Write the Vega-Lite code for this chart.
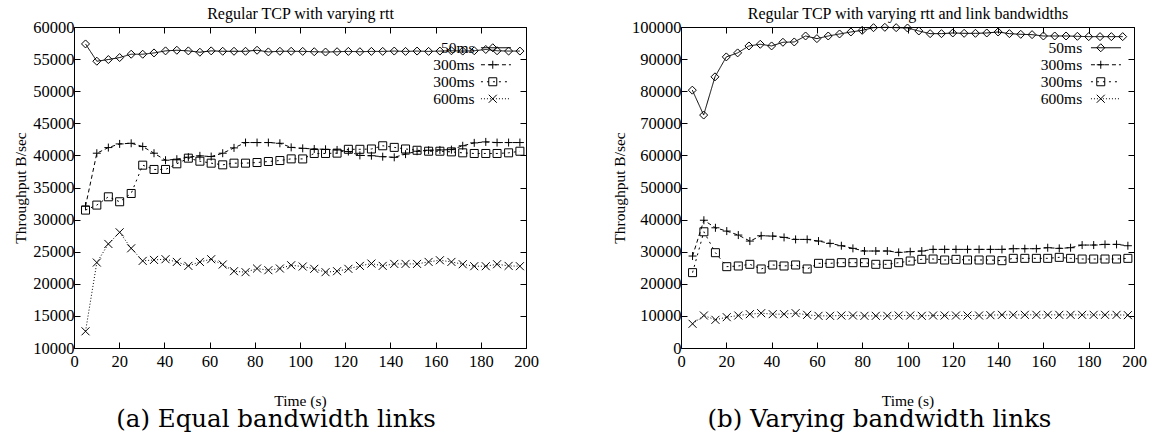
{
  "$schema": "https://vega.github.io/schema/vega-lite/v6.json",
  "padding": {"left": 13, "top": 5, "right": 0, "bottom": 0},
  "background": "white",
  "config": {
    "font": "Liberation Serif",
    "view": {"stroke": "black", "strokeWidth": 1},
    "axis": {"labelFont": "Liberation Serif", "labelFontSize": 16.5, "labelColor": "black", "titleFont": "Liberation Serif", "titleFontSize": 15.5, "titleFontWeight": "normal", "titleColor": "black", "grid": false, "domain": false, "ticks": true, "tickColor": "black", "tickSize": -6, "tickWidth": 1, "labelFlush": false},
    "title": {"font": "DejaVu Serif", "fontSize": 24.5, "fontWeight": "normal", "color": "black"},
    "concat": {"spacing": 73}
  },
  "resolve": {
    "scale": {"strokeDash": "independent", "shape": "independent"},
    "legend": {"strokeDash": "independent", "shape": "independent"}
  },
  "datasets": {
    "equal": [
      {"time":5.1,"tput":57360,"series":"50ms"},{"time":10.1,"tput":54670,"series":"50ms"},{"time":15.2,"tput":54930,"series":"50ms"},{"time":20.2,"tput":55240,"series":"50ms"},{"time":25.3,"tput":55760,"series":"50ms"},{"time":30.4,"tput":55760,"series":"50ms"},{"time":35.4,"tput":55960,"series":"50ms"},{"time":40.5,"tput":56280,"series":"50ms"},{"time":45.5,"tput":56380,"series":"50ms"},{"time":50.6,"tput":56280,"series":"50ms"},{"time":55.7,"tput":56070,"series":"50ms"},{"time":60.7,"tput":56280,"series":"50ms"},{"time":65.8,"tput":56220,"series":"50ms"},{"time":70.8,"tput":56220,"series":"50ms"},{"time":75.9,"tput":56220,"series":"50ms"},{"time":81.0,"tput":56380,"series":"50ms"},{"time":86.0,"tput":56120,"series":"50ms"},{"time":91.1,"tput":56220,"series":"50ms"},{"time":96.1,"tput":56220,"series":"50ms"},{"time":101.2,"tput":56200,"series":"50ms"},{"time":106.3,"tput":56150,"series":"50ms"},{"time":111.3,"tput":56100,"series":"50ms"},{"time":116.4,"tput":56150,"series":"50ms"},{"time":121.4,"tput":56200,"series":"50ms"},{"time":126.5,"tput":56150,"series":"50ms"},{"time":131.6,"tput":56200,"series":"50ms"},{"time":136.6,"tput":56200,"series":"50ms"},{"time":141.7,"tput":56250,"series":"50ms"},{"time":146.7,"tput":56200,"series":"50ms"},{"time":151.8,"tput":56250,"series":"50ms"},{"time":156.9,"tput":56200,"series":"50ms"},{"time":161.9,"tput":56250,"series":"50ms"},{"time":167.0,"tput":56300,"series":"50ms"},{"time":172.0,"tput":56250,"series":"50ms"},{"time":177.1,"tput":56300,"series":"50ms"},{"time":182.2,"tput":56500,"series":"50ms"},{"time":187.2,"tput":56300,"series":"50ms"},{"time":192.3,"tput":56250,"series":"50ms"},{"time":197.3,"tput":56250,"series":"50ms"},
      {"time":5.1,"tput":32100,"series":"300ms-a"},{"time":10.1,"tput":40340,"series":"300ms-a"},{"time":15.2,"tput":41220,"series":"300ms-a"},{"time":20.2,"tput":41790,"series":"300ms-a"},{"time":25.3,"tput":41890,"series":"300ms-a"},{"time":30.4,"tput":41380,"series":"300ms-a"},{"time":35.4,"tput":40340,"series":"300ms-a"},{"time":40.5,"tput":39250,"series":"300ms-a"},{"time":45.5,"tput":39410,"series":"300ms-a"},{"time":50.6,"tput":39720,"series":"300ms-a"},{"time":55.7,"tput":39930,"series":"300ms-a"},{"time":60.7,"tput":39820,"series":"300ms-a"},{"time":65.8,"tput":40340,"series":"300ms-a"},{"time":70.8,"tput":41170,"series":"300ms-a"},{"time":75.9,"tput":42000,"series":"300ms-a"},{"time":81.0,"tput":42000,"series":"300ms-a"},{"time":86.0,"tput":42000,"series":"300ms-a"},{"time":91.1,"tput":41890,"series":"300ms-a"},{"time":96.1,"tput":41250,"series":"300ms-a"},{"time":101.2,"tput":41100,"series":"300ms-a"},{"time":106.3,"tput":41000,"series":"300ms-a"},{"time":111.3,"tput":40950,"series":"300ms-a"},{"time":116.4,"tput":40850,"series":"300ms-a"},{"time":121.4,"tput":40600,"series":"300ms-a"},{"time":126.5,"tput":40000,"series":"300ms-a"},{"time":131.6,"tput":39950,"series":"300ms-a"},{"time":136.6,"tput":39800,"series":"300ms-a"},{"time":141.7,"tput":39700,"series":"300ms-a"},{"time":146.7,"tput":40200,"series":"300ms-a"},{"time":151.8,"tput":40650,"series":"300ms-a"},{"time":156.9,"tput":40800,"series":"300ms-a"},{"time":161.9,"tput":40850,"series":"300ms-a"},{"time":167.0,"tput":40900,"series":"300ms-a"},{"time":172.0,"tput":41500,"series":"300ms-a"},{"time":177.1,"tput":41950,"series":"300ms-a"},{"time":182.2,"tput":42100,"series":"300ms-a"},{"time":187.2,"tput":42000,"series":"300ms-a"},{"time":192.3,"tput":42000,"series":"300ms-a"},{"time":197.3,"tput":42000,"series":"300ms-a"},
      {"time":5.1,"tput":31480,"series":"300ms-b"},{"time":10.1,"tput":32260,"series":"300ms-b"},{"time":15.2,"tput":33550,"series":"300ms-b"},{"time":20.2,"tput":32780,"series":"300ms-b"},{"time":25.3,"tput":34070,"series":"300ms-b"},{"time":30.4,"tput":38480,"series":"300ms-b"},{"time":35.4,"tput":37810,"series":"300ms-b"},{"time":40.5,"tput":37810,"series":"300ms-b"},{"time":45.5,"tput":38690,"series":"300ms-b"},{"time":50.6,"tput":39570,"series":"300ms-b"},{"time":55.7,"tput":39100,"series":"300ms-b"},{"time":60.7,"tput":38790,"series":"300ms-b"},{"time":65.8,"tput":38530,"series":"300ms-b"},{"time":70.8,"tput":38790,"series":"300ms-b"},{"time":75.9,"tput":38790,"series":"300ms-b"},{"time":81.0,"tput":38890,"series":"300ms-b"},{"time":86.0,"tput":39050,"series":"300ms-b"},{"time":91.1,"tput":39200,"series":"300ms-b"},{"time":96.1,"tput":39460,"series":"300ms-b"},{"time":101.2,"tput":39450,"series":"300ms-b"},{"time":106.3,"tput":40300,"series":"300ms-b"},{"time":111.3,"tput":40300,"series":"300ms-b"},{"time":116.4,"tput":40350,"series":"300ms-b"},{"time":121.4,"tput":40950,"series":"300ms-b"},{"time":126.5,"tput":40950,"series":"300ms-b"},{"time":131.6,"tput":41000,"series":"300ms-b"},{"time":136.6,"tput":41500,"series":"300ms-b"},{"time":141.7,"tput":41250,"series":"300ms-b"},{"time":146.7,"tput":41000,"series":"300ms-b"},{"time":151.8,"tput":40800,"series":"300ms-b"},{"time":156.9,"tput":40650,"series":"300ms-b"},{"time":161.9,"tput":40650,"series":"300ms-b"},{"time":167.0,"tput":40550,"series":"300ms-b"},{"time":172.0,"tput":40400,"series":"300ms-b"},{"time":177.1,"tput":40300,"series":"300ms-b"},{"time":182.2,"tput":40300,"series":"300ms-b"},{"time":187.2,"tput":40300,"series":"300ms-b"},{"time":192.3,"tput":40400,"series":"300ms-b"},{"time":197.3,"tput":40650,"series":"300ms-b"},
      {"time":5.1,"tput":12600,"series":"600ms"},{"time":10.1,"tput":23310,"series":"600ms"},{"time":15.2,"tput":26210,"series":"600ms"},{"time":20.2,"tput":28020,"series":"600ms"},{"time":25.3,"tput":25530,"series":"600ms"},{"time":30.4,"tput":23570,"series":"600ms"},{"time":35.4,"tput":23720,"series":"600ms"},{"time":40.5,"tput":23830,"series":"600ms"},{"time":45.5,"tput":23410,"series":"600ms"},{"time":50.6,"tput":22790,"series":"600ms"},{"time":55.7,"tput":23410,"series":"600ms"},{"time":60.7,"tput":23830,"series":"600ms"},{"time":65.8,"tput":23000,"series":"600ms"},{"time":70.8,"tput":21960,"series":"600ms"},{"time":75.9,"tput":21810,"series":"600ms"},{"time":81.0,"tput":22380,"series":"600ms"},{"time":86.0,"tput":22120,"series":"600ms"},{"time":91.1,"tput":22380,"series":"600ms"},{"time":96.1,"tput":22890,"series":"600ms"},{"time":101.2,"tput":22690,"series":"600ms"},{"time":106.3,"tput":22330,"series":"600ms"},{"time":111.3,"tput":21810,"series":"600ms"},{"time":116.4,"tput":21960,"series":"600ms"},{"time":121.4,"tput":22330,"series":"600ms"},{"time":126.5,"tput":22790,"series":"600ms"},{"time":131.6,"tput":23150,"series":"600ms"},{"time":136.6,"tput":22790,"series":"600ms"},{"time":141.7,"tput":23100,"series":"600ms"},{"time":146.7,"tput":23100,"series":"600ms"},{"time":151.8,"tput":23100,"series":"600ms"},{"time":156.9,"tput":23410,"series":"600ms"},{"time":161.9,"tput":23670,"series":"600ms"},{"time":167.0,"tput":23410,"series":"600ms"},{"time":172.0,"tput":23050,"series":"600ms"},{"time":177.1,"tput":22740,"series":"600ms"},{"time":182.2,"tput":22740,"series":"600ms"},{"time":187.2,"tput":23050,"series":"600ms"},{"time":192.3,"tput":22790,"series":"600ms"},{"time":197.3,"tput":22740,"series":"600ms"}
    ],
    "varying": [
      {"time":5,"tput":80330,"series":"50ms"},{"time":10,"tput":72570,"series":"50ms"},{"time":15,"tput":84470,"series":"50ms"},{"time":20,"tput":90680,"series":"50ms"},{"time":25,"tput":91930,"series":"50ms"},{"time":30,"tput":94100,"series":"50ms"},{"time":35,"tput":94620,"series":"50ms"},{"time":40,"tput":94100,"series":"50ms"},{"time":45,"tput":95240,"series":"50ms"},{"time":50,"tput":95340,"series":"50ms"},{"time":55,"tput":97200,"series":"50ms"},{"time":60,"tput":96380,"series":"50ms"},{"time":65,"tput":97200,"series":"50ms"},{"time":70,"tput":97830,"series":"50ms"},{"time":75,"tput":98450,"series":"50ms"},{"time":80,"tput":98960,"series":"50ms"},{"time":85,"tput":99790,"series":"50ms"},{"time":90,"tput":99900,"series":"50ms"},{"time":95,"tput":99800,"series":"50ms"},{"time":100,"tput":99690,"series":"50ms"},{"time":105,"tput":98760,"series":"50ms"},{"time":110,"tput":97930,"series":"50ms"},{"time":115,"tput":97930,"series":"50ms"},{"time":120,"tput":98140,"series":"50ms"},{"time":125,"tput":98030,"series":"50ms"},{"time":130,"tput":98030,"series":"50ms"},{"time":135,"tput":98140,"series":"50ms"},{"time":140,"tput":98450,"series":"50ms"},{"time":145,"tput":97930,"series":"50ms"},{"time":150,"tput":97720,"series":"50ms"},{"time":155,"tput":97620,"series":"50ms"},{"time":160,"tput":97200,"series":"50ms"},{"time":165,"tput":97200,"series":"50ms"},{"time":170,"tput":97200,"series":"50ms"},{"time":175,"tput":97100,"series":"50ms"},{"time":180,"tput":97000,"series":"50ms"},{"time":185,"tput":97000,"series":"50ms"},{"time":190,"tput":97000,"series":"50ms"},{"time":195,"tput":97000,"series":"50ms"},
      {"time":5.1,"tput":28650,"series":"300ms-a"},{"time":10.1,"tput":39800,"series":"300ms-a"},{"time":15.2,"tput":37450,"series":"300ms-a"},{"time":20.2,"tput":36420,"series":"300ms-a"},{"time":25.3,"tput":35180,"series":"300ms-a"},{"time":30.4,"tput":33310,"series":"300ms-a"},{"time":35.4,"tput":34970,"series":"300ms-a"},{"time":40.5,"tput":34870,"series":"300ms-a"},{"time":45.5,"tput":34450,"series":"300ms-a"},{"time":50.6,"tput":33830,"series":"300ms-a"},{"time":55.7,"tput":33830,"series":"300ms-a"},{"time":60.7,"tput":33310,"series":"300ms-a"},{"time":65.8,"tput":32590,"series":"300ms-a"},{"time":70.8,"tput":31860,"series":"300ms-a"},{"time":75.9,"tput":31040,"series":"300ms-a"},{"time":81.0,"tput":30210,"series":"300ms-a"},{"time":86.0,"tput":30210,"series":"300ms-a"},{"time":91.1,"tput":30210,"series":"300ms-a"},{"time":96.1,"tput":29790,"series":"300ms-a"},{"time":101.2,"tput":30000,"series":"300ms-a"},{"time":106.3,"tput":30210,"series":"300ms-a"},{"time":111.3,"tput":30720,"series":"300ms-a"},{"time":116.4,"tput":30720,"series":"300ms-a"},{"time":121.4,"tput":30720,"series":"300ms-a"},{"time":126.5,"tput":30720,"series":"300ms-a"},{"time":131.6,"tput":30720,"series":"300ms-a"},{"time":136.6,"tput":30720,"series":"300ms-a"},{"time":141.7,"tput":30720,"series":"300ms-a"},{"time":146.7,"tput":30930,"series":"300ms-a"},{"time":151.8,"tput":30930,"series":"300ms-a"},{"time":156.9,"tput":30930,"series":"300ms-a"},{"time":161.9,"tput":31240,"series":"300ms-a"},{"time":167.0,"tput":31040,"series":"300ms-a"},{"time":172.0,"tput":31240,"series":"300ms-a"},{"time":177.1,"tput":32070,"series":"300ms-a"},{"time":182.2,"tput":32070,"series":"300ms-a"},{"time":187.2,"tput":32280,"series":"300ms-a"},{"time":192.3,"tput":32280,"series":"300ms-a"},{"time":197.3,"tput":31860,"series":"300ms-a"},
      {"time":5.1,"tput":23480,"series":"300ms-b"},{"time":10.1,"tput":36210,"series":"300ms-b"},{"time":15.2,"tput":29690,"series":"300ms-b"},{"time":20.2,"tput":25340,"series":"300ms-b"},{"time":25.3,"tput":25550,"series":"300ms-b"},{"time":30.4,"tput":26070,"series":"300ms-b"},{"time":35.4,"tput":24620,"series":"300ms-b"},{"time":40.5,"tput":25860,"series":"300ms-b"},{"time":45.5,"tput":25550,"series":"300ms-b"},{"time":50.6,"tput":25860,"series":"300ms-b"},{"time":55.7,"tput":24620,"series":"300ms-b"},{"time":60.7,"tput":26380,"series":"300ms-b"},{"time":65.8,"tput":26380,"series":"300ms-b"},{"time":70.8,"tput":26580,"series":"300ms-b"},{"time":75.9,"tput":26580,"series":"300ms-b"},{"time":81.0,"tput":26580,"series":"300ms-b"},{"time":86.0,"tput":26070,"series":"300ms-b"},{"time":91.1,"tput":26070,"series":"300ms-b"},{"time":96.1,"tput":26580,"series":"300ms-b"},{"time":101.2,"tput":27100,"series":"300ms-b"},{"time":106.3,"tput":27620,"series":"300ms-b"},{"time":111.3,"tput":27720,"series":"300ms-b"},{"time":116.4,"tput":27410,"series":"300ms-b"},{"time":121.4,"tput":27620,"series":"300ms-b"},{"time":126.5,"tput":27410,"series":"300ms-b"},{"time":131.6,"tput":27410,"series":"300ms-b"},{"time":136.6,"tput":27410,"series":"300ms-b"},{"time":141.7,"tput":27200,"series":"300ms-b"},{"time":146.7,"tput":27930,"series":"300ms-b"},{"time":151.8,"tput":27930,"series":"300ms-b"},{"time":156.9,"tput":27930,"series":"300ms-b"},{"time":161.9,"tput":27930,"series":"300ms-b"},{"time":167.0,"tput":28240,"series":"300ms-b"},{"time":172.0,"tput":27930,"series":"300ms-b"},{"time":177.1,"tput":27720,"series":"300ms-b"},{"time":182.2,"tput":27720,"series":"300ms-b"},{"time":187.2,"tput":27720,"series":"300ms-b"},{"time":192.3,"tput":27720,"series":"300ms-b"},{"time":197.3,"tput":27930,"series":"300ms-b"},
      {"time":5.1,"tput":7540,"series":"600ms"},{"time":10.1,"tput":10120,"series":"600ms"},{"time":15.2,"tput":8780,"series":"600ms"},{"time":20.2,"tput":9600,"series":"600ms"},{"time":25.3,"tput":10120,"series":"600ms"},{"time":30.4,"tput":10540,"series":"600ms"},{"time":35.4,"tput":10850,"series":"600ms"},{"time":40.5,"tput":10540,"series":"600ms"},{"time":45.5,"tput":10540,"series":"600ms"},{"time":50.6,"tput":10850,"series":"600ms"},{"time":55.7,"tput":10330,"series":"600ms"},{"time":60.7,"tput":10020,"series":"600ms"},{"time":65.8,"tput":10020,"series":"600ms"},{"time":70.8,"tput":10120,"series":"600ms"},{"time":75.9,"tput":10120,"series":"600ms"},{"time":81.0,"tput":10020,"series":"600ms"},{"time":86.0,"tput":10020,"series":"600ms"},{"time":91.1,"tput":10020,"series":"600ms"},{"time":96.1,"tput":10120,"series":"600ms"},{"time":101.2,"tput":10120,"series":"600ms"},{"time":106.3,"tput":10020,"series":"600ms"},{"time":111.3,"tput":10120,"series":"600ms"},{"time":116.4,"tput":10120,"series":"600ms"},{"time":121.4,"tput":10120,"series":"600ms"},{"time":126.5,"tput":10120,"series":"600ms"},{"time":131.6,"tput":10120,"series":"600ms"},{"time":136.6,"tput":10230,"series":"600ms"},{"time":141.7,"tput":10330,"series":"600ms"},{"time":146.7,"tput":10330,"series":"600ms"},{"time":151.8,"tput":10330,"series":"600ms"},{"time":156.9,"tput":10330,"series":"600ms"},{"time":161.9,"tput":10330,"series":"600ms"},{"time":167.0,"tput":10330,"series":"600ms"},{"time":172.0,"tput":10330,"series":"600ms"},{"time":177.1,"tput":10330,"series":"600ms"},{"time":182.2,"tput":10330,"series":"600ms"},{"time":187.2,"tput":10330,"series":"600ms"},{"time":192.3,"tput":10330,"series":"600ms"},{"time":197.3,"tput":10230,"series":"600ms"}
    ]
  },
  "hconcat": [
    {
      "title": {"text": "(a) Equal bandwidth links", "orient": "bottom", "offset": -1, "anchor": "middle", "frame": "bounds"},
      "width": 452, "height": 321,
      "data": {"name": "equal"},
      "layer": [
        {
          "mark": {"type": "line", "stroke": "black", "strokeWidth": 1},
          "encoding": {
            "x": {"field": "time", "type": "quantitative", "scale": {"domain": [0, 200], "nice": false}, "axis": {"orient": "bottom", "values": [0,20,40,60,80,100,120,140,160,180,200], "title": "Time (s)", "labelPadding": 11, "titlePadding": 24}},
            "y": {"field": "tput", "type": "quantitative", "scale": {"domain": [10000, 60000], "nice": false, "zero": false}, "axis": {"orient": "left", "values": [10000,15000,20000,25000,30000,35000,40000,45000,50000,55000,60000], "format": "d", "title": "Throughput B/sec", "labelPadding": 6, "titlePadding": 4}},
            "strokeDash": {"field": "series", "type": "nominal", "scale": {"domain": ["50ms","300ms-a","300ms-b","600ms"], "range": [[1,0],[4,3],[2,4],[1,2]]}, "legend": {"orient": "none", "legendX": 414.2, "legendY": 13, "zindex": 2, "title": null, "symbolType": "M-3,0L3,0", "symbolSize": 100, "symbolStrokeWidth": 1, "symbolStrokeColor": "black", "symbolFillColor": "transparent", "symbolOpacity": 1, "labelFont": "Liberation Serif", "labelFontSize": 15.5, "labelColor": "black", "labelAlign": "right", "labelOffset": -29.2, "labelExpr": "split(datum.label, '-')[0]", "rowPadding": -3, "padding": 0}}
          }
        },
        {
          "mark": {"type": "point", "filled": false, "stroke": "black", "strokeWidth": 1, "opacity": 1, "size": 64},
          "encoding": {
            "x": {"field": "time", "type": "quantitative", "scale": {"domain": [0, 200], "nice": false}, "axis": {"orient": "top", "values": [0,20,40,60,80,100,120,140,160,180,200], "labels": false, "title": "Regular TCP with varying rtt", "titleFontSize": 16, "titlePadding": 5}},
            "y": {"field": "tput", "type": "quantitative", "scale": {"domain": [10000, 60000], "nice": false, "zero": false}, "axis": {"orient": "right", "values": [10000,15000,20000,25000,30000,35000,40000,45000,50000,55000,60000], "labels": false, "title": null}},
            "shape": {"field": "series", "type": "nominal", "scale": {"domain": ["50ms","300ms-a","300ms-b","600ms"], "range": ["diamond", "M-1,0L1,0M0,-1L0,1", "square", "M-1,-1L1,1M-1,1L1,-1"]}, "legend": {"orient": "top-right", "offset": 12.75, "zindex": 3, "title": null, "symbolSize": 64, "symbolStrokeWidth": 1, "symbolStrokeColor": "black", "symbolFillColor": "transparent", "labelExpr": "'0'", "labelFont": "Liberation Serif", "labelFontSize": 15.5, "labelOffset": 4, "labelOpacity": 0, "rowPadding": -3, "padding": 0}}
          }
        }
      ],
      "resolve": {"axis": {"x": "independent", "y": "independent"}}
    },
    {
      "title": {"text": "(b) Varying bandwidth links", "orient": "bottom", "offset": -1, "anchor": "middle", "frame": "bounds"},
      "width": 453, "height": 321,
      "data": {"name": "varying"},
      "layer": [
        {
          "mark": {"type": "line", "stroke": "black", "strokeWidth": 1},
          "encoding": {
            "x": {"field": "time", "type": "quantitative", "scale": {"domain": [0, 200], "nice": false}, "axis": {"orient": "bottom", "values": [0,20,40,60,80,100,120,140,160,180,200], "title": "Time (s)", "labelPadding": 11, "titlePadding": 24}},
            "y": {"field": "tput", "type": "quantitative", "scale": {"domain": [0, 100000], "nice": false}, "axis": {"orient": "left", "values": [0,10000,20000,30000,40000,50000,60000,70000,80000,90000,100000], "format": "d", "title": "Throughput B/sec", "labelPadding": 6, "titlePadding": 4}},
            "strokeDash": {"field": "series", "type": "nominal", "scale": {"domain": ["50ms","300ms-a","300ms-b","600ms"], "range": [[1,0],[4,3],[2,4],[1,2]]}, "legend": {"orient": "none", "legendX": 417.2, "legendY": 13, "zindex": 2, "title": null, "symbolType": "M-3,0L3,0", "symbolSize": 100, "symbolStrokeWidth": 1, "symbolStrokeColor": "black", "symbolFillColor": "transparent", "symbolOpacity": 1, "labelFont": "Liberation Serif", "labelFontSize": 15.5, "labelColor": "black", "labelAlign": "right", "labelOffset": -31.5, "labelExpr": "split(datum.label, '-')[0]", "rowPadding": -3, "padding": 0}}
          }
        },
        {
          "mark": {"type": "point", "filled": false, "stroke": "black", "strokeWidth": 1, "opacity": 1, "size": 64},
          "encoding": {
            "x": {"field": "time", "type": "quantitative", "scale": {"domain": [0, 200], "nice": false}, "axis": {"orient": "top", "values": [0,20,40,60,80,100,120,140,160,180,200], "labels": false, "title": "Regular TCP with varying rtt and link bandwidths", "titleFontSize": 16, "titlePadding": 5}},
            "y": {"field": "tput", "type": "quantitative", "scale": {"domain": [0, 100000], "nice": false}, "axis": {"orient": "right", "values": [0,10000,20000,30000,40000,50000,60000,70000,80000,90000,100000], "labels": false, "title": null}},
            "shape": {"field": "series", "type": "nominal", "scale": {"domain": ["50ms","300ms-a","300ms-b","600ms"], "range": ["diamond", "M-1,0L1,0M0,-1L0,1", "square", "M-1,-1L1,1M-1,1L1,-1"]}, "legend": {"orient": "top-right", "offset": 12.75, "zindex": 3, "title": null, "symbolSize": 64, "symbolStrokeWidth": 1, "symbolStrokeColor": "black", "symbolFillColor": "transparent", "labelExpr": "'0'", "labelFont": "Liberation Serif", "labelFontSize": 15.5, "labelOffset": 4, "labelOpacity": 0, "rowPadding": -3, "padding": 0}}
          }
        }
      ],
      "resolve": {"axis": {"x": "independent", "y": "independent"}}
    }
  ]
}
